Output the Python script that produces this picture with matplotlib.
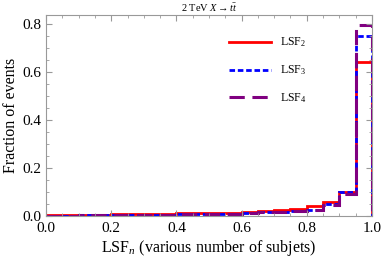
import numpy as np
import matplotlib
matplotlib.use("Agg")
import matplotlib.pyplot as plt
from matplotlib.ticker import MultipleLocator

edges = np.linspace(0, 1, 21)
lsf2 = [0.003, 0.004, 0.005, 0.006, 0.007, 0.008, 0.009, 0.010, 0.011, 0.012,
        0.013, 0.014, 0.017, 0.020, 0.027, 0.030, 0.040, 0.058, 0.100, 0.640]
lsf3 = [0.002, 0.002, 0.003, 0.004, 0.004, 0.005, 0.006, 0.006, 0.007, 0.008,
        0.009, 0.010, 0.012, 0.015, 0.017, 0.020, 0.026, 0.050, 0.098, 0.750]
lsf4 = [0.002, 0.002, 0.003, 0.003, 0.004, 0.005, 0.005, 0.006, 0.007, 0.007,
        0.008, 0.009, 0.012, 0.015, 0.017, 0.020, 0.025, 0.045, 0.090, 0.795]
labels = ["LSF$_2$", "LSF$_3$", "LSF$_4$"]

plt.rcParams['font.family'] = ['Liberation Serif', 'DejaVu Serif']
plt.rcParams['mathtext.fontset'] = 'custom'
plt.rcParams['mathtext.rm'] = 'Liberation Serif'
plt.rcParams['mathtext.it'] = 'Liberation Serif:italic'

fig = plt.figure(figsize=(3.82, 2.63), dpi=100)
ax = fig.add_axes([46/382, 1-216/263, (372-46)/382, (216-15)/263])

ax.stairs(lsf2, edges, color=(1, 0, 0), lw=2.0, label=labels[0])
ax.stairs(lsf3, edges, color=(0, 0, 1), lw=2.0, ls=(0, (2, 1)), label=labels[1])
ax.stairs(lsf4, edges, color=(0.5, 0, 0.5), lw=2.2, ls=(0, (5, 2.5)), label=labels[2])

ax.set_xlim(0, 1)
ax.set_ylim(0, 0.8375)
ax.xaxis.set_major_locator(MultipleLocator(0.2))
ax.xaxis.set_minor_locator(MultipleLocator(0.05))
ax.yaxis.set_major_locator(MultipleLocator(0.2))
ax.yaxis.set_minor_locator(MultipleLocator(0.05))
ax.tick_params(which='both', direction='in', top=True, right=True, color='#999999',
               labelsize=11)
ax.tick_params(axis='x', pad=4.5)
ax.tick_params(axis='y', pad=3)
ax.tick_params(which='major', length=4)
ax.tick_params(which='minor', length=2)
ax.xaxis.set_major_formatter(matplotlib.ticker.FormatStrFormatter('%.1f'))
ax.yaxis.set_major_formatter(matplotlib.ticker.FormatStrFormatter('%.1f'))
for s in ax.spines.values():
    s.set_color('#999999')
    s.set_linewidth(0.8)

ax.set_xlabel("LSF$_n$ (various number of subjets)", fontsize=11.5, labelpad=2)
ax.set_ylabel("Fraction of events", fontsize=11.5, labelpad=3)
ax.set_title(r"2 TeV $X \rightarrow t\bar{t}$", fontsize=7.5, pad=2)

ax.legend(loc='upper left', bbox_to_anchor=(0.53, 0.95), frameon=False, fontsize=8.5,
          handlelength=3.5, labelspacing=1.2, handletextpad=0.8)

fig.savefig("out.png", dpi=100)
